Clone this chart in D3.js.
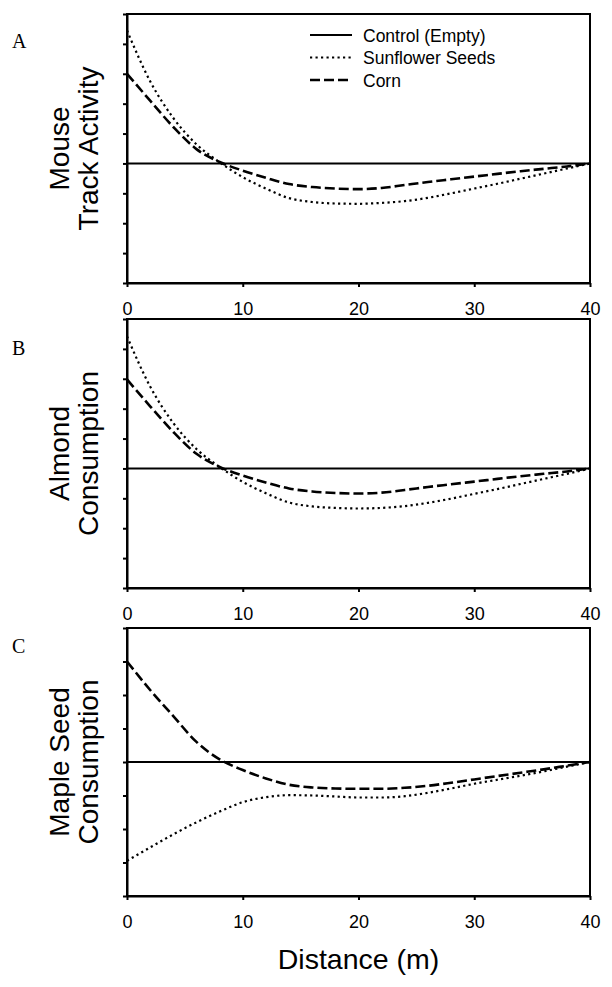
<!DOCTYPE html>
<html><head><meta charset="utf-8">
<script src="https://cdn.jsdelivr.net/npm/d3@7"></script>
<style>body{margin:0;background:#fff}svg{display:block}</style>
</head><body><svg id="c" width="612" height="987"></svg>
<script>
// ---------- data ----------
const distances = [0,2,4,6,8,10,12,14,16,18,20,22,24,26,28,30,32,34,36,38,40];
const xTickValues = [0,10,20,30,40];
const yTicksAB = [-4,-3,-2,-1,0,1,2,3,4,5];
const yTicksC = [-4,-3,-2,-1,0,1,2,3,4];
const seriesNames = ["Control (Empty)","Sunflower Seeds","Corn"];
const panelLetters = ["A","B","C"];
const panelTitles = [["Mouse","Track Activity"],["Almond","Consumption"],["Maple Seed","Consumption"]];

const controlA = [0,0,0,0,0,0,0,0,0,0,0,0,0,0,0,0,0,0,0,0,0];
const sunflowerA = [4.45,2.75,1.52,0.64,0.04,-0.46,-0.84,-1.16,-1.29,-1.34,-1.35,-1.32,-1.26,-1.15,-1.0,-0.84,-0.68,-0.51,-0.34,-0.17,0];
const cornA = [3.0,2.1,1.22,0.48,0.05,-0.24,-0.48,-0.69,-0.79,-0.84,-0.86,-0.82,-0.72,-0.62,-0.53,-0.44,-0.35,-0.26,-0.18,-0.1,0];

const controlB = [0,0,0,0,0,0,0,0,0,0,0,0,0,0,0,0,0,0,0,0,0];
const sunflowerB = [4.42,2.74,1.52,0.65,0.05,-0.45,-0.83,-1.14,-1.27,-1.32,-1.34,-1.32,-1.26,-1.15,-1.01,-0.85,-0.69,-0.52,-0.35,-0.18,0];
const cornB = [2.98,2.08,1.22,0.49,0.05,-0.24,-0.47,-0.67,-0.77,-0.82,-0.84,-0.81,-0.72,-0.62,-0.53,-0.44,-0.35,-0.26,-0.18,-0.1,0];

const controlC = [0,0,0,0,0,0,0,0,0,0,0,0,0,0,0,0,0,0,0,0,0];
const sunflowerC = [-2.95,-2.55,-2.16,-1.8,-1.48,-1.2,-1.05,-0.99,-1.0,-1.03,-1.06,-1.06,-1.02,-0.92,-0.79,-0.65,-0.53,-0.41,-0.28,-0.14,0];
const cornC = [3.0,2.15,1.37,0.6,0.08,-0.24,-0.49,-0.68,-0.76,-0.79,-0.8,-0.8,-0.77,-0.71,-0.62,-0.52,-0.42,-0.32,-0.22,-0.11,0];

// ---------- layout ----------
const left = 127, right = 590;
const panels = [
  {top:14, bottom:283, domain:[-4,5], ticks:yTicksAB, series:[controlA,sunflowerA,cornA], letterY:48, letter:panelLetters[0], title:panelTitles[0]},
  {top:319, bottom:588, domain:[-4,5], ticks:yTicksAB, series:[controlB,sunflowerB,cornB], letterY:355, letter:panelLetters[1], title:panelTitles[1]},
  {top:628, bottom:896, domain:[-4,4], ticks:yTicksC, series:[controlC,sunflowerC,cornC], letterY:653, letter:panelLetters[2], title:panelTitles[2]}
];
const styles = [
  {w:2, dash:null},
  {w:2.2, dash:"2.2,3.3"},
  {w:2.6, dash:"10,4"}
];
const sans = "'Liberation Sans', Arial, sans-serif";
const serif = "'Liberation Serif', 'Times New Roman', serif";

const svg = d3.select("#c");
const x = d3.scaleLinear().domain([0,40]).range([left,right]);

panels.forEach((p,pi)=>{
  const y = d3.scaleLinear().domain(p.domain).range([p.bottom,p.top]);
  const g = svg.append("g");

  const line = d3.line().x((d,i)=>x(distances[i])).y(d=>y(d)).curve(d3.curveMonotoneX);
  p.series.forEach((s,si)=>{
    g.append("path").datum(s).attr("d",line)
      .attr("fill","none").attr("stroke","#000")
      .attr("stroke-width",styles[si].w)
      .attr("stroke-dasharray",styles[si].dash);
  });

  g.append("rect").attr("x",left).attr("y",p.top).attr("width",right-left).attr("height",p.bottom-p.top)
    .attr("fill","none").attr("stroke","#000").attr("stroke-width",2);

  const ya = g.append("g").attr("transform",`translate(${left},0)`)
    .call(d3.axisLeft(y).tickValues(p.ticks).tickSize(4).tickSizeOuter(0).tickFormat(""));
  ya.selectAll("path,line").attr("stroke","#000").attr("stroke-width",2);

  const xa = g.append("g").attr("transform",`translate(0,${p.bottom})`)
    .call(d3.axisBottom(x).tickValues(xTickValues).tickSize(4).tickSizeOuter(0).tickPadding(15));
  xa.selectAll("path,line").attr("stroke","#000").attr("stroke-width",2);
  xa.selectAll("text").attr("font-family",sans).attr("font-size",18).attr("fill","#000");

  svg.append("text").attr("x",12).attr("y",p.letterY).text(p.letter)
    .attr("font-family",serif).attr("font-size",20).attr("fill","#000");

  const cy = (p.top+p.bottom)/2;
  p.title.forEach((t,ti)=>{
    svg.append("text").attr("transform",`translate(${69+ti*29},${cy}) rotate(-90)`)
      .attr("text-anchor","middle").attr("font-family",sans).attr("font-size",28).attr("fill","#000").text(t);
  });
});

svg.append("text").attr("x",(left+right)/2).attr("y",969).attr("text-anchor","middle")
  .attr("font-family",sans).attr("font-size",28.5).attr("fill","#000").text("Distance (m)");

const legY = [35,57.5,80];
const legG = svg.append("g");
seriesNames.forEach((n,i)=>{
  legG.append("line").attr("x1",310).attr("x2",352).attr("y1",legY[i]).attr("y2",legY[i])
    .attr("stroke","#000").attr("stroke-width",styles[i].w).attr("stroke-dasharray",styles[i].dash);
  legG.append("text").attr("x",363).attr("y",legY[i]+6.5).text(n)
    .attr("font-family",sans).attr("font-size",17.5).attr("fill","#000");
});
</script>
</body></html>
